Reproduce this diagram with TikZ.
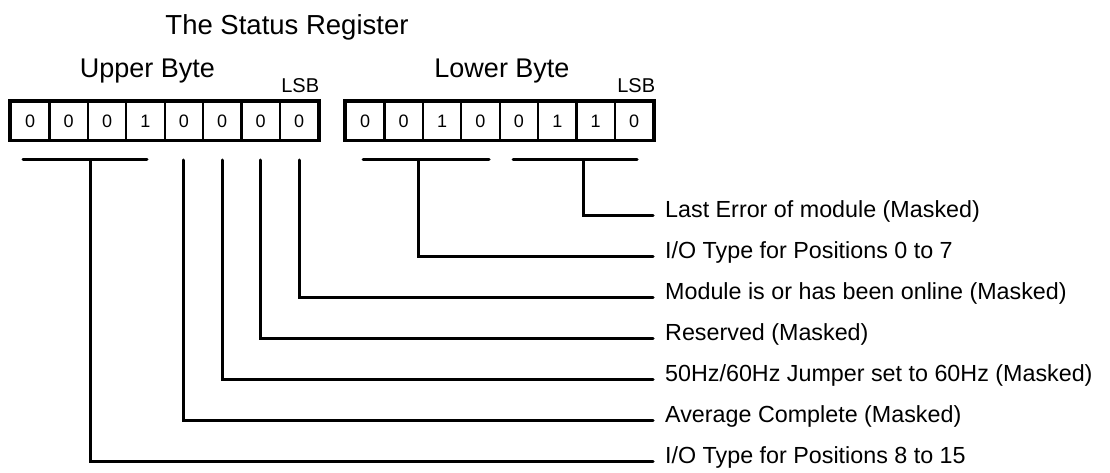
\documentclass[tikz,border=0pt]{standalone}
\usepackage{fontspec}
\setmainfont{Liberation Sans}
\usetikzlibrary{positioning}

\tikzset{
	bit/.style={draw, line width=2.1pt, minimum width=38.4pt, minimum height=37.6pt,
		inner sep=0pt, anchor=north west, font=\fontsize{18}{18}\selectfont},
	frame/.style={line width=3.2pt},
	lead/.style={line width=3pt, line cap=round},
	note/.style={anchor=west, inner sep=0pt, text height=0.7em, text depth=0.2em,
		font=\fontsize{23.3}{23.3}\selectfont},
	head/.style={anchor=base, inner sep=0pt, font=\fontsize{27}{27}\selectfont},
	lsb/.style={anchor=base east, inner sep=0pt, font=\fontsize{20}{20}\selectfont},
}

\begin{document}
\begin{tikzpicture}[x=1pt, y=-1pt]
	\useasboundingbox (0,0) rectangle (1110,473);

	\def\w{38.4};
	\def\bary{160};
	\def\gap{41.05};

	% headings
	\node[head, font=\fontsize{27.5}{27.5}\selectfont] (title) at (287,35) {The Status Register};
	\node[head] (upper) at (147.5,78) {Upper Byte};
	\node[head] (lower) at (502,78) {Lower Byte};

	% the two bytes
	\foreach \b [count=\i] in {0,0,0,1,0,0,0,0}
		\node[bit] (u\i) at ({10+\w*(\i-1)},101) {\b};
	\foreach \b [count=\i] in {0,0,1,0,0,1,1,0}
		\node[bit] (l\i) at ({345+\w*(\i-1)},101) {\b};
	\draw[frame] (u1.north west) rectangle (u8.south east);
	\draw[frame] (l1.north west) rectangle (l8.south east);

	\node[lsb] (ulsb) at ([yshift=8pt]u8.north east) {LSB};
	\node[lsb] (llsb) at ([xshift=1pt, yshift=8pt]l8.north east) {LSB};

	% bars under the bit groups
	\coordinate (bar) at (0,\bary);
	\draw[lead] (23,\bary) -- (147,\bary);
	\draw[lead] (363,\bary) -- (489,\bary);
	\draw[lead] (513,\bary) -- (637,\bary);

	% where each leader starts
	\coordinate (t1) at (583,\bary);
	\coordinate (t2) at (418,\bary);
	\coordinate (t3) at (u8.south |- bar);
	\coordinate (t4) at (u7.south |- bar);
	\coordinate (t5) at (u6.south |- bar);
	\coordinate (t6) at (u5.south |- bar);
	\coordinate (t7) at (90,\bary);

	% descriptions
	\foreach \txt [count=\i] in {Last Error of module (Masked),
			I/O Type for Positions 0 to 7,
			Module is or has been online (Masked),
			Reserved (Masked),
			50Hz/60Hz Jumper set to 60Hz (Masked),
			Average Complete (Masked),
			I/O Type for Positions 8 to 15}
		\node[note] (n\i) at (665,{215+\gap*(\i-1)}) {\txt};

	\foreach \i in {1,...,7}
		\draw[lead, shorten >=12pt] (t\i) |- (n\i.west);
\end{tikzpicture}
\end{document}
